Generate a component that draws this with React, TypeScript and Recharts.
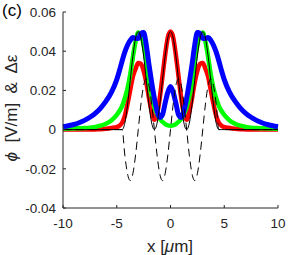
import { LineChart, Line, XAxis, YAxis } from 'recharts';

// ── Data ───────────────────────────────────────────────────────────────────

const X = [
  -10, -9.5, -9, -8.5, -8, -7.5, -7, -6.5, -6, -5.5, -5,
  -4.75, -4.5, -4.25, -4, -3.75, -3.5, -3.25, -3, -2.75, -2.5, -2.25, -2, -1.75, -1.5, -1.25, -1, -0.75, -0.5, -0.25, 0,
  0.25, 0.5, 0.75, 1, 1.25, 1.5, 1.75, 2, 2.25, 2.5, 2.75, 3, 3.25, 3.5, 3.75, 4, 4.25, 4.5, 4.75, 5,
  5.5, 6, 6.5, 7, 7.5, 8, 8.5, 9, 9.5, 10,
];

// thin black solid
const BLACK = [
  0, 0, 0, 0, 0, 0, 0, 0, 0, 0, 0,
  0, 0, 0.0033, 0.0125, 0.025, 0.0375, 0.0467, 0.05, 0.0467, 0.0375, 0.025, 0.0125, 0.0033, 0, 0.0033, 0.0125, 0.025, 0.0375, 0.0467, 0.05,
  0.0467, 0.0375, 0.025, 0.0125, 0.0033, 0, 0.0033, 0.0125, 0.025, 0.0375, 0.0467, 0.05, 0.0467, 0.0375, 0.025, 0.0125, 0.0033, 0, 0, 0,
  0, 0, 0, 0, 0, 0, 0, 0, 0, 0,
];

// thin black dashed
const DASHED = [
  0, 0, 0, 0, 0, 0, 0, 0, 0, 0, 0,
  0, 0, -0.013, -0.0225, -0.026, -0.0225, -0.013, 0, 0.013, 0.0225, 0.026, 0.0225, 0.013, 0, -0.013, -0.0225, -0.026, -0.0225, -0.013, 0,
  0.013, 0.0225, 0.026, 0.0225, 0.013, 0, -0.013, -0.0225, -0.026, -0.0225, -0.013, 0, 0.013, 0.0225, 0.026, 0.0225, 0.013, 0, 0, 0,
  0, 0, 0, 0, 0, 0, 0, 0, 0, 0,
];

const RED = [
  0, 0, 0, 0, 0, 0, 0.0001, 0.0002, 0.0004, 0.0008, 0.0013,
  0.002, 0.0035, 0.007, 0.013, 0.02, 0.027, 0.031, 0.034, 0.0335, 0.03, 0.024, 0.016, 0.009, 0.005, 0.008, 0.016, 0.027, 0.038, 0.047, 0.05,
  0.047, 0.038, 0.027, 0.016, 0.008, 0.005, 0.009, 0.016, 0.024, 0.03, 0.0335, 0.034, 0.031, 0.027, 0.02, 0.013, 0.007, 0.0035, 0.002, 0.0013,
  0.0008, 0.0004, 0.0002, 0.0001, 0, 0, 0, 0, 0, 0,
];

const GREEN = [
  0.0004, 0.0005, 0.0006, 0.0007, 0.0008, 0.001, 0.0014, 0.002, 0.003, 0.0047, 0.0075,
  0.0095, 0.012, 0.016, 0.021, 0.028, 0.037, 0.045, 0.0495, 0.0485, 0.043, 0.035, 0.024, 0.017, 0.0115, 0.008, 0.0055, 0.004, 0.0028, 0.0022, 0.002,
  0.0022, 0.0028, 0.004, 0.0055, 0.008, 0.0115, 0.017, 0.024, 0.035, 0.043, 0.0485, 0.0495, 0.045, 0.037, 0.028, 0.021, 0.016, 0.012, 0.0095, 0.0075,
  0.0047, 0.003, 0.002, 0.0014, 0.001, 0.0008, 0.0007, 0.0006, 0.0005, 0.0004,
];

const BLUE = [
  0.0015, 0.002, 0.0026, 0.0035, 0.0047, 0.0063, 0.0083, 0.011, 0.0145, 0.019, 0.0255,
  0.03, 0.035, 0.0395, 0.043, 0.0455, 0.047, 0.0465, 0.0465, 0.049, 0.0495, 0.043, 0.033, 0.024, 0.016, 0.0095, 0.0062, 0.0075, 0.0135, 0.019, 0.022,
  0.019, 0.0135, 0.0075, 0.0062, 0.0095, 0.016, 0.024, 0.033, 0.043, 0.0495, 0.049, 0.0465, 0.0465, 0.047, 0.0455, 0.043, 0.0395, 0.035, 0.03, 0.0255,
  0.019, 0.0145, 0.011, 0.0083, 0.0063, 0.0047, 0.0035, 0.0026, 0.002, 0.0015,
];

const X_TICKS = [-10, -5, 0, 5, 10];
const Y_TICKS = [-0.04, -0.02, 0, 0.02, 0.04, 0.06];

const rows = X.map((x, i) => ({
  x, s: BLACK[i], d: DASHED[i], r: RED[i], g: GREEN[i], b: BLUE[i],
}));

const AXIS = '#262626';
const FONT = '"Liberation Sans", Arial, Helvetica, sans-serif';

export default function App() {
  return (
    <div style={{ position: 'absolute', left: 0, top: 0, width: 293, height: 255, background: '#fff', fontFamily: FONT }}>
      <LineChart width={293} height={255} data={rows} margin={{ top: 12, right: 15, bottom: 17, left: 13 }}>
        <XAxis
          dataKey="x"
          type="number"
          domain={[-10, 10]}
          ticks={X_TICKS}
          interval={0}
          height={30}
          tickSize={-3}
          tickMargin={13}
          axisLine={{ stroke: AXIS }}
          tickLine={{ stroke: AXIS }}
          tick={{ fill: AXIS, fontSize: 13.5, fontFamily: FONT }}
        />
        <YAxis
          type="number"
          domain={[-0.04, 0.06]}
          ticks={Y_TICKS}
          interval={0}
          width={50}
          tickSize={-3}
          tickMargin={10}
          axisLine={{ stroke: AXIS }}
          tickLine={{ stroke: AXIS }}
          tick={{ fill: AXIS, fontSize: 13.5, fontFamily: FONT }}
          tickFormatter={(v: number) => (v === 0 ? '0' : v.toFixed(2))}
        />
        <Line type="monotone" dataKey="r" stroke="#FF0000" strokeWidth={4.5} dot={false} activeDot={false} isAnimationActive={false} />
        <Line type="monotone" dataKey="g" stroke="#00FF00" strokeWidth={4.5} dot={false} activeDot={false} isAnimationActive={false} />
        <Line type="monotone" dataKey="b" stroke="#0000FF" strokeWidth={5} dot={false} activeDot={false} isAnimationActive={false} />
        <Line type="monotone" dataKey="s" stroke="#000000" strokeWidth={1} dot={false} activeDot={false} isAnimationActive={false} />
        <Line type="monotone" dataKey="d" stroke="#000000" strokeWidth={1} strokeDasharray="8 5" dot={false} activeDot={false} isAnimationActive={false} />
      </LineChart>

      {/* panel letter */}
      <div style={{ position: 'absolute', left: 2, top: 2, fontSize: 17, lineHeight: 1, color: '#000' }}>(c)</div>

      {/* y label, rotated */}
      <div
        style={{
          position: 'absolute', left: 11, top: 108, fontSize: 17, lineHeight: 1, color: AXIS,
          whiteSpace: 'pre', transform: 'translate(-50%, -50%) rotate(-90deg)',
        }}
      >
        <i>ϕ</i>{'  [V/m]  &  Δε'}
      </div>

      {/* x label */}
      <div
        style={{
          position: 'absolute', left: 170, top: 246, fontSize: 17, lineHeight: 1, color: AXIS,
          whiteSpace: 'pre', transform: 'translate(-50%, -50%)',
        }}
      >
        x [<i>μ</i>m]
      </div>
    </div>
  );
}
